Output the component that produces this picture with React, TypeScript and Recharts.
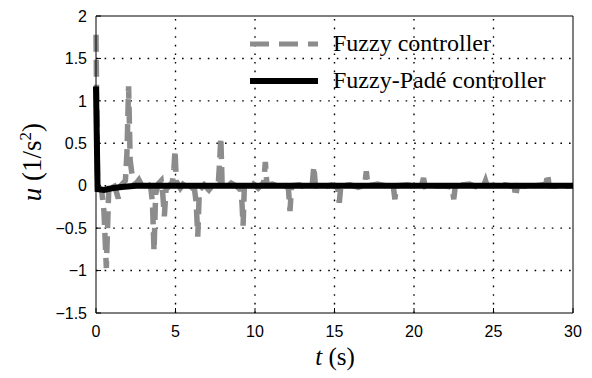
import { LineChart, Line, XAxis, YAxis, Legend, ReferenceLine } from "recharts";

// u(t) of the fuzzy controller
const fuzzyT = [
  0, 0.1, 0.35, 0.5, 0.65, 0.8, 1.0, 1.2, 1.4, 1.55, 1.85, 1.95, 2.05, 2.15, 2.3,
  2.5, 2.7, 2.95, 3.2, 3.45, 3.55, 3.65, 3.75, 3.9, 4.1, 4.2, 4.3, 4.4, 4.6, 4.8,
  4.9, 4.97, 5.05, 5.3, 5.6, 5.9, 6.2, 6.3, 6.4, 6.5, 6.8, 7.1, 7.4, 7.7, 7.78,
  7.85, 7.93, 8.2, 8.5, 8.8, 9.1, 9.18, 9.25, 9.33, 9.6, 9.9, 10.2, 10.55, 10.65,
  10.75, 11.1, 11.5, 11.9, 12.1, 12.2, 12.3, 12.8, 13.2, 13.6, 13.7, 13.8, 14.3,
  14.8, 15.2, 15.3, 15.4, 16.0, 16.5, 16.9, 17.0, 17.1, 17.7, 18.2, 18.7, 18.8,
  18.9, 19.6, 20.1, 20.5, 20.6, 20.7, 21.6, 22.2, 22.4, 22.5, 22.6, 23.5, 24.0,
  24.4, 24.5, 24.6, 25.7, 26.3, 26.4, 26.5, 27.3, 28.0, 28.3, 28.4, 28.5, 29.3, 30,
];
const fuzzyU = [
  1.78, 0.0, -0.05, -0.3, -0.97, -0.05, 0.05, -0.02, -0.15, 0.0, 0.06, 0.4, 1.17,
  0.3, 0.08, 0.02, 0.07, -0.02, 0.04, -0.03, -0.2, -0.77, -0.1, 0.02, 0.06, -0.1,
  -0.36, -0.05, 0.0, 0.04, 0.2, 0.42, 0.05, -0.03, 0.05, 0.0, -0.05, -0.2, -0.6,
  -0.05, 0.01, -0.05, 0.02, 0.05, 0.3, 0.57, 0.03, -0.02, 0.03, 0.0, -0.05, -0.2,
  -0.47, -0.02, -0.03, 0.02, -0.03, 0.04, 0.28, 0.01, 0.02, -0.01, 0.0, -0.03,
  -0.3, 0.0, 0.01, -0.02, 0.01, 0.23, 0.0, -0.02, 0.01, -0.02, -0.2, 0.0, 0.01,
  -0.02, 0.01, 0.17, 0.0, 0.02, 0.0, -0.01, -0.16, 0.0, 0.01, -0.01, 0.02, 0.09,
  -0.01, 0.0, -0.01, -0.02, -0.16, 0.0, 0.02, -0.02, 0.01, 0.06, 0.0, 0.01, -0.01,
  -0.13, 0.0, -0.01, 0.01, 0.02, 0.14, 0.0, -0.01, 0.0,
];

// u(t) of the fuzzy-Padé controller
const padeT = [0, 0.1, 0.5, 1.0, 1.6, 2.5, 30];
const padeU = [1.17, -0.04, -0.05, -0.03, -0.015, 0, 0];

const xMajor = [0, 5, 10, 15, 20, 25, 30];
const yMajor = [-1.5, -1, -0.5, 0, 0.5, 1, 1.5, 2];
const xMinor = Array.from({ length: 61 }, (_, i) => i * 0.5);
const yMinor = Array.from({ length: 36 }, (_, i) => +(-1.5 + i * 0.1).toFixed(1));

const fuzzyData = fuzzyT.map((t, i) => ({ t, u: fuzzyU[i] }));
const padeData = padeT.map((t, i) => ({ t, u: padeU[i] }));

const tickFont = { fontFamily: "Liberation Sans, Arial, sans-serif", fontSize: 16, fill: "#000" };
const serif = "Liberation Serif, Times New Roman, serif";
const gridStyle = { stroke: "#000", strokeWidth: 1.4, strokeDasharray: "1.6 7" };

const fmtY = (v: number) => String(v).replace("-", "\u2212");

function LegendBox() {
  const rows = [
    { label: "Fuzzy controller", color: "#8c8c8c", dash: "19 10", w: 5 },
    { label: "Fuzzy-Padé controller", color: "#000", dash: undefined, w: 6 },
  ];
  return (
    <svg width={300} height={80} style={{ display: "block" }}>
      {rows.map((r, i) => (
        <g key={r.label} transform={`translate(0, ${i * 37})`}>
          <line x1={2} x2={70} y1={17} y2={17} stroke={r.color} strokeWidth={r.w} strokeDasharray={r.dash} />
          <text x={85} y={24} fontFamily={serif} fontSize={24} fill="#000">
            {r.label}
          </text>
        </g>
      ))}
    </svg>
  );
}

export default function App() {
  return (
    <div style={{ position: "absolute", left: 0, top: 0, width: 592, height: 378, background: "#fff" }}>
      <LineChart width={592} height={378} margin={{ top: 15, right: 18, bottom: 0, left: 0 }}>
        <XAxis
          dataKey="t"
          type="number"
          domain={[0, 30]}
          ticks={xMajor}
          interval={0}
          tick={tickFont}
          tickSize={-5}
          tickMargin={18}
          stroke="#000"
          height={65}
          allowDuplicatedCategory={false}
        />
        <XAxis
          xAxisId="top"
          dataKey="t"
          orientation="top"
          type="number"
          domain={[0, 30]}
          ticks={xMinor}
          interval={0}
          tick={false}
          tickSize={-4}
          stroke="#000"
          height={1}
        />
        <YAxis
          type="number"
          domain={[-1.5, 2]}
          ticks={yMajor}
          interval={0}
          tickFormatter={fmtY}
          tick={tickFont}
          tickSize={-5}
          tickMargin={14}
          stroke="#000"
          width={96}
        />
        <YAxis
          yAxisId="right"
          orientation="right"
          type="number"
          domain={[-1.5, 2]}
          ticks={yMinor}
          interval={0}
          tick={false}
          tickSize={-4}
          stroke="#000"
          width={1}
        />
        {xMajor.slice(1, -1).map((v) => (
          <ReferenceLine key={`gx${v}`} x={v} {...gridStyle} />
        ))}
        {yMajor.slice(1, -1).map((v) => (
          <ReferenceLine key={`gy${v}`} y={v} {...gridStyle} />
        ))}
        <Legend
          layout="vertical"
          align="center"
          verticalAlign="middle"
          wrapperStyle={{ position: "absolute", left: 248, top: 27, width: 300, height: 80 }}
          content={() => <LegendBox />}
        />
        <Line
          data={fuzzyData}
          dataKey="u"
          name="Fuzzy controller"
          type="linear"
          stroke="#8c8c8c"
          strokeWidth={5.5}
          strokeDasharray="17 8"
          dot={false}
          isAnimationActive={false}
        />
        <Line
          xAxisId="top"
          yAxisId="right"
          data={padeData}
          dataKey="u"
          name="Fuzzy-Padé controller"
          type="linear"
          stroke="#000"
          strokeWidth={6}
          dot={false}
          isAnimationActive={false}
        />
      </LineChart>
      <div
        style={{
          position: "absolute",
          left: 31,
          top: 162,
          transform: "translate(-50%, -50%) rotate(-90deg)",
          whiteSpace: "nowrap",
          fontFamily: serif,
          fontSize: 27,
          lineHeight: 1,
        }}
      >
        <i>u</i> (1/s<sup style={{ fontSize: 17 }}>2</sup>)
      </div>
      <div
        style={{
          position: "absolute",
          left: 335,
          top: 356,
          transform: "translate(-50%, -50%)",
          whiteSpace: "nowrap",
          fontFamily: serif,
          fontSize: 25,
          lineHeight: 1,
        }}
      >
        <i>t</i> (s)
      </div>
    </div>
  );
}
